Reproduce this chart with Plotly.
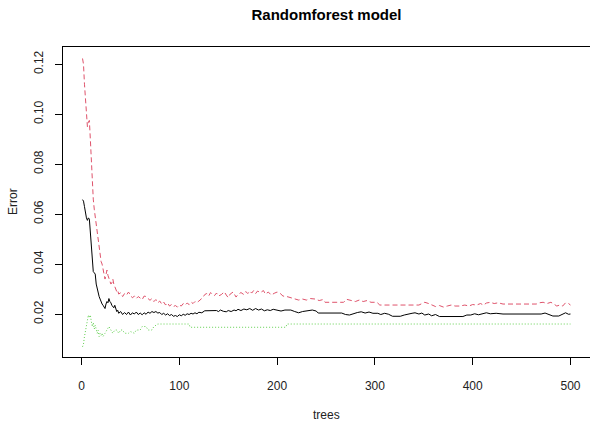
import plotly.graph_objects as go

# OOB error (black, solid)
oob_trees = [1,2,3,4,5,6,7,8,9,10,11,12,13,14,15,16,17,18,19,20,21,22,23,24,25,26,27,28,29,30,31,32,33,34,35,36,37,38,40,42,44,46,48,50,52,54,56,58,60,62,64,66,68,70,72,74,76,78,80,82,84,86,88,90,92,94,96,98,100,102,104,106,108,110,112,114,116,118,120,123,126,130,134,138,140,142,145,148,150,153,156,158,160,163,166,169,172,175,178,181,184,187,190,193,196,200,204,208,214,218,222,226,232,236,240,242,266,270,274,278,282,286,290,294,298,303,306,310,314,318,326,330,334,338,341,345,348,351,355,358,362,366,390,394,398,402,406,410,414,418,424,431,470,474,478,482,488,492,495,498,500]
oob_err = [0.0658,0.0652,0.063,0.060,0.0585,0.0575,0.0585,0.058,0.052,0.0445,0.041,0.037,0.0365,0.036,0.032,0.030,0.028,0.027,0.026,0.0245,0.024,0.0235,0.0225,0.0222,0.024,0.025,0.0245,0.0262,0.025,0.0245,0.0235,0.023,0.0225,0.0235,0.0222,0.021,0.0215,0.0203,0.021,0.0198,0.0206,0.0198,0.0208,0.0196,0.0205,0.020,0.0208,0.0198,0.0204,0.0197,0.0205,0.0199,0.0208,0.0203,0.021,0.0206,0.021,0.0204,0.0206,0.0198,0.0203,0.0196,0.0201,0.0194,0.0198,0.0191,0.0194,0.019,0.0197,0.0193,0.0199,0.0195,0.0201,0.0198,0.0203,0.020,0.0205,0.0201,0.0207,0.0205,0.0213,0.0213,0.0212,0.0214,0.021,0.0216,0.0211,0.0209,0.0214,0.021,0.0216,0.0213,0.0219,0.0214,0.022,0.0217,0.0222,0.0215,0.0222,0.0216,0.022,0.0213,0.0217,0.0214,0.0219,0.0216,0.0212,0.0216,0.0216,0.021,0.0205,0.021,0.0212,0.0216,0.0212,0.0204,0.0204,0.0198,0.0196,0.0202,0.0206,0.0209,0.0204,0.0208,0.0203,0.0203,0.0198,0.0203,0.0199,0.0191,0.0191,0.0196,0.0198,0.0203,0.0205,0.020,0.0204,0.0196,0.020,0.0193,0.0198,0.019,0.019,0.0196,0.0196,0.0201,0.0197,0.0202,0.0205,0.0201,0.0203,0.020,0.020,0.0204,0.0197,0.0192,0.0192,0.0198,0.0205,0.0199,0.020]

# Class 1 error (red, dashed)
c1_trees = [1,2,3,4,5,6,7,8,9,10,11,12,13,14,15,16,17,18,19,20,21,22,23,24,25,26,27,28,29,30,31,32,33,34,35,36,37,38,40,42,44,46,48,50,52,54,56,58,60,62,64,66,68,70,72,74,76,78,80,82,84,86,88,90,92,94,96,98,100,102,104,106,108,110,112,114,116,118,120,122,124,126,128,130,132,134,136,138,140,143,146,148,150,152,155,158,160,163,166,168,170,172,174,176,178,180,183,186,188,191,194,197,200,203,206,210,214,218,222,226,230,234,239,243,247,249,268,271,275,280,284,288,292,296,302,305,345,349,351,355,358,362,366,370,374,378,382,387,392,396,400,404,408,411,414,418,422,426,431,465,468,472,476,480,483,486,489,492,495,498,500]
c1_err = [0.1223,0.12,0.112,0.105,0.10,0.095,0.097,0.0975,0.09,0.08,0.072,0.066,0.062,0.059,0.055,0.051,0.048,0.0456,0.043,0.041,0.040,0.0385,0.036,0.034,0.036,0.0376,0.0355,0.034,0.0335,0.032,0.0325,0.034,0.032,0.031,0.0305,0.029,0.0295,0.028,0.0285,0.027,0.0282,0.0276,0.0288,0.0276,0.0265,0.0272,0.0262,0.027,0.0265,0.0258,0.0272,0.027,0.0262,0.0255,0.0262,0.025,0.0258,0.0245,0.0252,0.024,0.0248,0.0236,0.0244,0.0232,0.0238,0.023,0.0234,0.0228,0.0236,0.0232,0.0242,0.0236,0.0244,0.0238,0.0248,0.0242,0.025,0.0246,0.0252,0.0258,0.0266,0.0278,0.0282,0.0272,0.0286,0.0278,0.0274,0.0284,0.0272,0.0278,0.0289,0.0276,0.0266,0.028,0.0288,0.0268,0.0278,0.0286,0.0278,0.029,0.0282,0.0292,0.0284,0.0294,0.0282,0.0292,0.0286,0.0294,0.028,0.0288,0.0276,0.0283,0.0288,0.0283,0.0272,0.027,0.0265,0.026,0.0256,0.026,0.0256,0.0262,0.026,0.0254,0.0258,0.0247,0.0247,0.0259,0.0254,0.025,0.0256,0.025,0.0254,0.0247,0.0247,0.0236,0.0236,0.0242,0.0247,0.0242,0.0236,0.023,0.0234,0.0228,0.0232,0.0236,0.0232,0.0232,0.0236,0.0232,0.0238,0.0236,0.0242,0.0236,0.0244,0.0247,0.0242,0.0245,0.024,0.024,0.0245,0.0247,0.0242,0.0247,0.024,0.0232,0.0236,0.0232,0.0245,0.0242,0.0236]

# Class 2 error (green, dotted)
c2_trees = [1,2,3,4,5,6,7,8,9,10,11,12,13,14,15,16,17,18,19,20,21,22,24,26,28,30,32,34,36,38,40,42,44,48,50,54,56,60,62,66,68,72,74,78,110,111,209,210,500]
c2_err = [0.0069,0.008,0.011,0.0135,0.016,0.019,0.0196,0.0185,0.0196,0.017,0.015,0.0165,0.014,0.0155,0.013,0.0123,0.0135,0.011,0.0123,0.0115,0.0123,0.011,0.0123,0.0136,0.015,0.0136,0.0123,0.0136,0.0136,0.0123,0.0136,0.0136,0.0123,0.0123,0.013,0.0123,0.0136,0.0136,0.015,0.015,0.0136,0.0136,0.015,0.016,0.016,0.0147,0.0147,0.016,0.016]

x_ticks = [0, 100, 200, 300, 400, 500]
y_ticks = [0.02, 0.04, 0.06, 0.08, 0.10, 0.12]
y_tick_labels = ["0.02", "0.04", "0.06", "0.08", "0.10", "0.12"]

FONT = "Liberation Sans, Arial, sans-serif"
W, H = 590, 427
L, R, T, B = 63, 0, 47, 70
PW, PH = W - L - R, H - T - B

fig = go.Figure()
fig.add_trace(go.Scatter(x=oob_trees, y=oob_err, mode="lines",
                         line=dict(color="black", width=1)))
fig.add_trace(go.Scatter(x=c1_trees, y=c1_err, mode="lines",
                         line=dict(color="#DF536B", width=1, dash="5px,3px")))
fig.add_trace(go.Scatter(x=c2_trees, y=c2_err, mode="lines",
                         line=dict(color="#61D04F", width=1, dash="1px,2px")))

fig.update_layout(
    width=W, height=H,
    margin=dict(l=L, r=R, t=T, b=B),
    plot_bgcolor="white", paper_bgcolor="white",
    showlegend=False,
    font=dict(family=FONT, size=12, color="#222"),
    title=dict(text="<b>Randomforest model</b>", x=(L + W) / 2 / W, xanchor="center",
               y=1 - 15 / H, yanchor="middle", font=dict(size=15, color="black", family=FONT)),
    annotations=[
        dict(text="trees", xref="paper", yref="paper", x=0.5, xanchor="center",
             y=-(415 - (H - B)) / PH, yanchor="middle", showarrow=False,
             font=dict(size=12, family=FONT, color="#222")),
        dict(text="Error", textangle=-90, xref="paper", yref="paper",
             x=-(L - 13) / PW, xanchor="center",
             y=((H - B) - 202) / PH, yanchor="middle", showarrow=False,
             font=dict(size=12, family=FONT, color="#222")),
    ],
)

fig.update_xaxes(range=[-18.96, 519.96], tickvals=x_ticks, ticks="outside", ticklen=7,
                 tickcolor="black", showline=True, linecolor="black", linewidth=1,
                 mirror=True, showgrid=False, zeroline=False,
                 ticklabelstandoff=11, tickfont=dict(size=12, family=FONT, color="#222"))
fig.update_yaxes(range=[0.0028, 0.1269], tickvals=y_ticks, ticktext=y_tick_labels,
                 ticks="outside", ticklen=7, tickcolor="black", tickangle=-90,
                 showline=True, linecolor="black", linewidth=1, mirror=True,
                 showgrid=False, zeroline=False, ticklabelstandoff=7,
                 tickfont=dict(size=12, family=FONT, color="#222"))

fig.write_html("out.html", config={"displayModeBar": False},
               post_script="document.body.style.margin='0';document.body.style.overflow='hidden';")
